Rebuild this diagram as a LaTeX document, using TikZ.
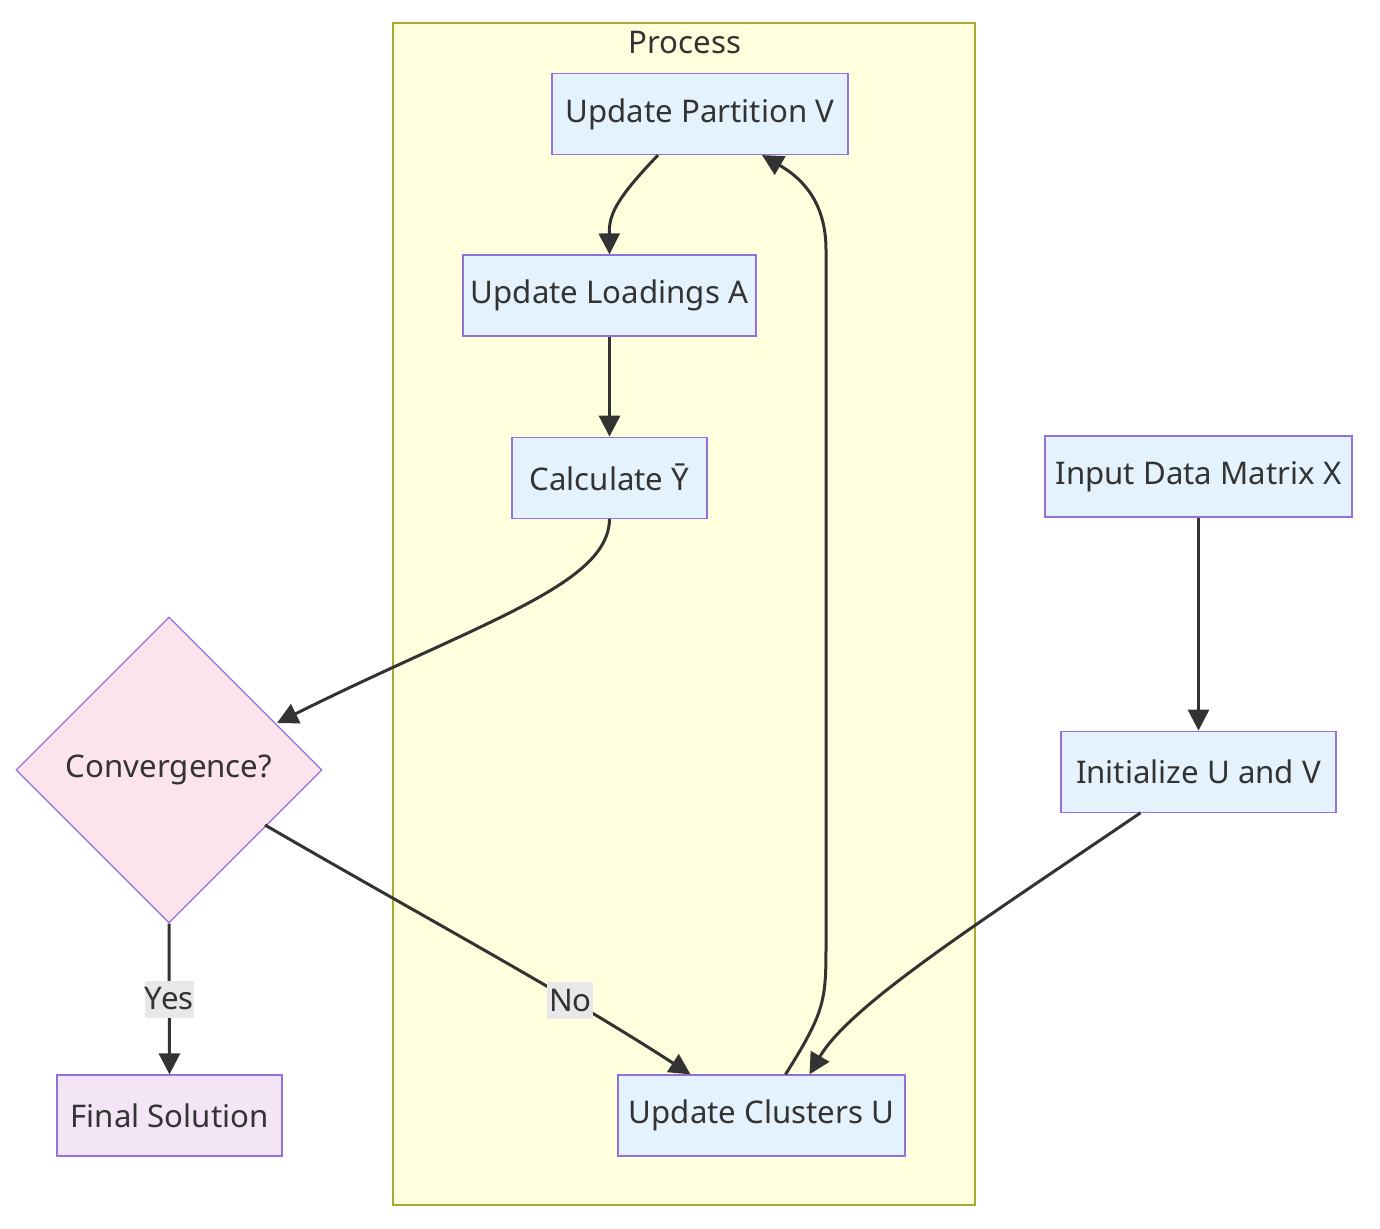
\documentclass[tikz,border=0pt]{standalone}
\usepackage{fontspec}
\setmainfont{Noto Sans}
\usetikzlibrary{arrows.meta,positioning,shapes.geometric,calc}
\definecolor{nodefill}{HTML}{E3F2FD}
\definecolor{nodeborder}{HTML}{9370DB}
\definecolor{decfill}{HTML}{FCE4EC}
\definecolor{endfill}{HTML}{F3E5F5}
\definecolor{groupfill}{HTML}{FFFFDE}
\definecolor{groupborder}{HTML}{AAAA33}
\definecolor{edgegray}{HTML}{333333}
\definecolor{labelgray}{HTML}{E8E8E8}

\begin{document}
\begin{tikzpicture}[x=0.5pt, y=-0.5pt, >={Triangle[length=10.5pt,width=10.5pt]},
    font=\fontsize{15.6}{18}\selectfont, text=edgegray]
  \tikzstyle{proc}=[draw=nodeborder, fill=nodefill, line width=0.6pt, minimum height=40.5pt, inner sep=0pt]
  \tikzstyle{decision}=[diamond, aspect=1, draw=nodeborder, fill=decfill, line width=0.6pt, minimum width=153pt, minimum height=153pt, inner sep=0pt]
  \tikzstyle{flow}=[->, draw=edgegray, line width=1.5pt]
  \tikzstyle{lbl}=[fill=labelgray, inner sep=0pt, minimum width=23pt, minimum height=18.5pt]

  \useasboundingbox[fill=white] (0,0) rectangle (1380,1229);

  % subgraph Process
  \draw[draw=groupborder, fill=groupfill, line width=0.6pt] (393,23) rectangle (975,1205);
  \node (proctitle) at (685,43) {Process};

  \node[proc, minimum width=148pt]   (partV)  at (700,114)      {Update Partition V};
  \node[proc, minimum width=146.5pt] (loadA)  at (609.5,295.5)  {Update Loadings A};
  \node[proc, minimum width=97.5pt]  (calcY)  [below=50pt of loadA] {Calculate Ȳ};
  \node[proc, minimum width=143.5pt] (clustU) at (761.5,1115.5) {Update Clusters U};

  \node[proc, minimum width=153.5pt] (inX)    at (1198.5,476.5) {Input Data Matrix X};
  \node[proc, minimum width=137.5pt] (initUV) [below=106.5pt of inX] {Initialize U and V};

  \node[decision] (conv) at (169,770) {Convergence?};
  \node[proc, fill=endfill, minimum width=112.5pt] (final) at (169.5,1115.5) {Final Solution};

  % connectors
  \draw[flow] ($(partV.south)+(-42,0)$) .. controls (615,200) and (609,215) .. (loadA.north);
  \draw[flow] (loadA.south) -- (calcY.north);
  \draw[flow] (calcY.south) .. controls (609,585) and (480,622) .. ($(conv.center)+(108,-47)$);
  \draw[flow] ($(conv.center)+(96,55)$) .. controls (420,915) and (560,990) .. node[lbl, pos=0.7] {No} ($(clustU.north)+(-71,0)$);
  \draw[flow] (conv.south) -- node[lbl] {Yes} (final.north);
  \draw[flow] (inX.south) -- (initUV.north);
  \draw[flow] ($(initUV.south)+(-58,0)$) .. controls (980,922) and (850,1005) .. ($(clustU.north)+(48,0)$);
  \draw[flow] ($(clustU.north)+(24,0)$) .. controls (826,1010) and (826,1000) .. (826,940)
    -- (826,250) .. controls (826,205) and (805,180) .. ($(partV.south)+(62,0)$);
\end{tikzpicture}
\end{document}
